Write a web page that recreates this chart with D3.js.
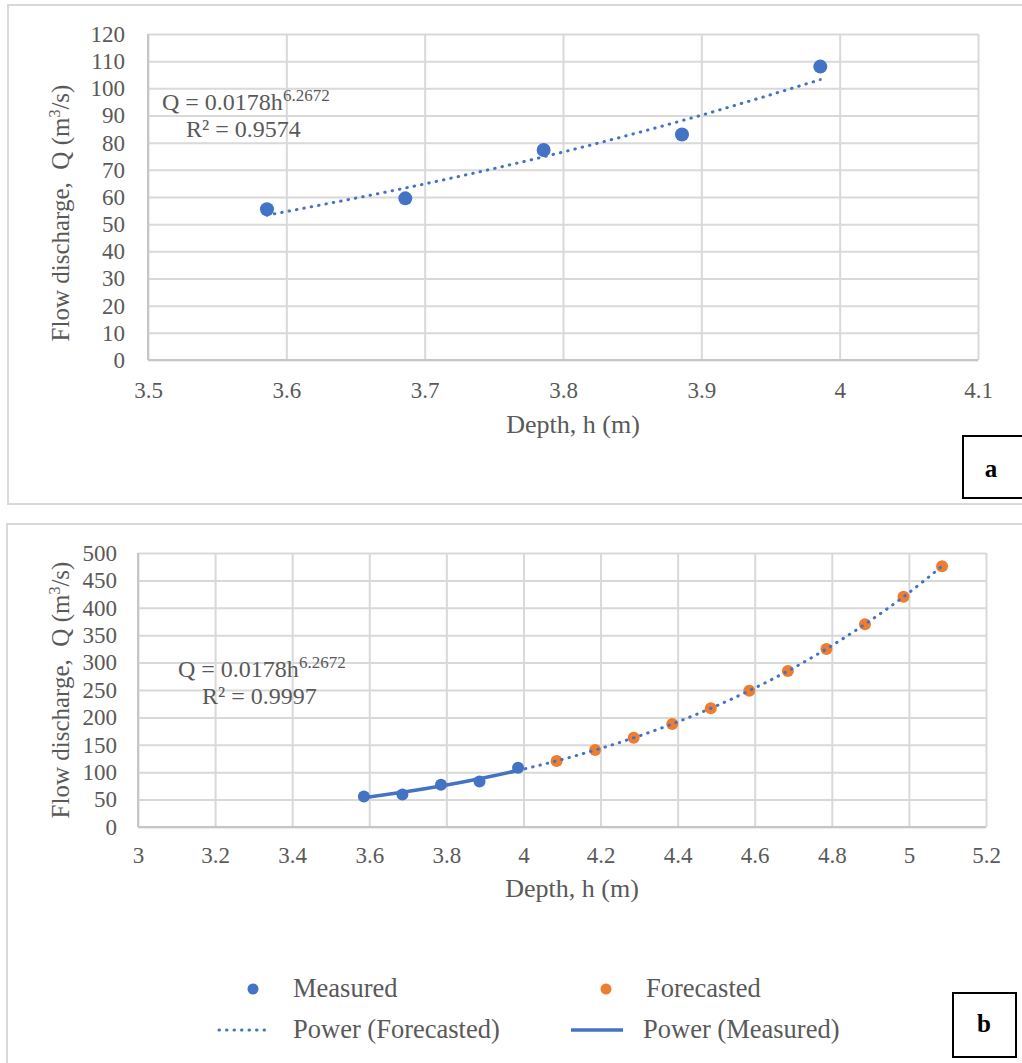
<!DOCTYPE html>
<html>
<head>
<meta charset="utf-8">
<script src="https://cdn.jsdelivr.net/npm/d3@7"></script>
<style>
  body { margin: 0; background: #fff; }
  svg { display: block; font-family: "Liberation Serif", "Times New Roman", serif; }
</style>
</head>
<body>
<svg id="chart" width="1022" height="1063"></svg>
<script>
// measured gauge data (same in both panels)
var depthMeasured = [3.586, 3.686, 3.786, 3.886, 3.986];
var flowMeasured = [55.5, 59.5, 77.3, 83, 108];

// power trendline read at the measured depths
var trendMeasured = [53.3, 63.3, 74.8, 88.1, 103.2];

// forecasted points (panel b)
var depthForecast = [4.086, 4.186, 4.286, 4.386, 4.486, 4.586, 4.686, 4.786, 4.886, 4.986, 5.086];
var flowForecast = [120.6, 140.3, 162.7, 188, 216.6, 248.8, 284.7, 325, 370, 420, 476];

// dotted "Power (Forecasted)" line in panel b starts at the last measured point
var trendForecastDepth = [3.986].concat(depthForecast);
var trendForecastFlow = [103.2].concat(flowForecast);

var xTicksA = [3.5, 3.6, 3.7, 3.8, 3.9, 4, 4.1];
var yTicksA = [0, 10, 20, 30, 40, 50, 60, 70, 80, 90, 100, 110, 120];
var xTicksB = [3, 3.2, 3.4, 3.6, 3.8, 4, 4.2, 4.4, 4.6, 4.8, 5, 5.2];
var yTicksB = [0, 50, 100, 150, 200, 250, 300, 350, 400, 450, 500];

var blue = "#4472c4", orange = "#ed7d31", grey = "#595959", gridCol = "#d9d9d9";

var svg = d3.select("#chart");

// panel frames
svg.append("rect").attr("x", 8).attr("y", 5).attr("width", 1030).attr("height", 499)
  .attr("fill", "#fff").attr("stroke", gridCol).attr("stroke-width", 2);
svg.append("rect").attr("x", 7).attr("y", 524).attr("width", 1030).attr("height", 560)
  .attr("fill", "#fff").attr("stroke", gridCol).attr("stroke-width", 2);

function panel(opt) {
  var x = d3.scaleLinear().domain(opt.xDomain).range([opt.left, opt.right]);
  var y = d3.scaleLinear().domain(opt.yDomain).range([opt.bottom, opt.top]);
  var g = svg.append("g");

  // grid
  g.append("g")
    .attr("transform", "translate(0," + opt.bottom + ")")
    .call(d3.axisBottom(x).tickValues(opt.xTicks).tickSize(-(opt.bottom - opt.top)).tickFormat(""))
    .call(function(s) { s.select(".domain").remove(); })
    .selectAll("line").attr("stroke", gridCol).attr("stroke-width", 2);
  g.append("g")
    .attr("transform", "translate(" + opt.left + ",0)")
    .call(d3.axisLeft(y).tickValues(opt.yTicks).tickSize(-(opt.right - opt.left)).tickFormat(""))
    .call(function(s) { s.select(".domain").remove(); })
    .selectAll("line").attr("stroke", gridCol).attr("stroke-width", 2);

  // axis lines
  g.append("line").attr("x1", opt.left).attr("x2", opt.left).attr("y1", opt.top).attr("y2", opt.bottom)
    .attr("stroke", "#c6c6c6").attr("stroke-width", 2);
  g.append("line").attr("x1", opt.left).attr("x2", opt.right).attr("y1", opt.bottom).attr("y2", opt.bottom)
    .attr("stroke", "#c6c6c6").attr("stroke-width", 2);

  // tick labels
  var xa = g.append("g")
    .attr("transform", "translate(0," + opt.bottom + ")")
    .call(d3.axisBottom(x).tickValues(opt.xTicks).tickSize(0).tickPadding(opt.xPad)
      .tickFormat(function(d) { return String(+d.toFixed(1)); }));
  xa.attr("font-family", null).attr("font-size", null);
  xa.select(".domain").remove();
  xa.selectAll("text").attr("fill", grey).style("font-size", "23px");
  var ya = g.append("g")
    .attr("transform", "translate(" + opt.left + ",0)")
    .call(d3.axisLeft(y).tickValues(opt.yTicks).tickSize(0).tickPadding(opt.yPad));
  ya.attr("font-family", null).attr("font-size", null);
  ya.select(".domain").remove();
  ya.selectAll("text").attr("fill", grey).style("font-size", "23px");

  // axis titles
  g.append("text").attr("x", (opt.left + opt.right) / 2 + 10).attr("y", opt.xTitleY)
    .attr("text-anchor", "middle").attr("fill", grey).style("font-size", "26px")
    .text("Depth, h (m)");
  var yt = g.append("text")
    .attr("transform", "translate(" + opt.yTitleX + "," + opt.yTitleMid + ") rotate(-90)")
    .attr("text-anchor", "middle").attr("fill", grey).style("font-size", "25px");
  yt.append("tspan").text("Flow discharge,\u00a0 Q (m");
  yt.append("tspan").attr("dy", -9).style("font-size", "16px").text("3");
  yt.append("tspan").attr("dy", 9).text("/s)");

  // equation label
  var eq = g.append("text").attr("x", opt.eqX).attr("y", opt.eqY).attr("fill", grey).style("font-size", "24px");
  eq.append("tspan").text("Q = 0.0178h");
  eq.append("tspan").attr("dy", -9).style("font-size", "17px").text("6.2672");
  g.append("text").attr("x", opt.r2X).attr("y", opt.eqY + 27).attr("fill", grey).style("font-size", "24px")
    .text("R\u00b2 = " + opt.r2);

  return { g: g, x: x, y: y };
}

var line = function(p) {
  return d3.line().x(function(d) { return p.x(d[0]); }).y(function(d) { return p.y(d[1]); })
    .curve(d3.curveMonotoneX);
};

// ---------- panel a ----------
var pa = panel({
  xDomain: [3.5, 4.1], yDomain: [0, 120], left: 148, right: 978, top: 34, bottom: 360,
  xTicks: xTicksA, yTicks: yTicksA, xPad: 22, yPad: 23,
  xTitleY: 433, yTitleX: 69, yTitleMid: 213,
  eqX: 162, eqY: 110, r2X: 186, r2: "0.9574"
});
pa.g.selectAll("circle.m").data(d3.zip(depthMeasured, flowMeasured)).enter().append("circle")
  .attr("cx", function(d) { return pa.x(d[0]); }).attr("cy", function(d) { return pa.y(d[1]); })
  .attr("r", 7).attr("fill", blue);
pa.g.append("path").datum(d3.zip(depthMeasured, trendMeasured)).attr("d", line(pa))
  .attr("fill", "none").attr("stroke", blue).attr("stroke-width", 3)
  .attr("stroke-linecap", "round").attr("stroke-dasharray", "0.5 7");

// ---------- panel b ----------
var pb = panel({
  xDomain: [3, 5.2], yDomain: [0, 500], left: 138, right: 986, top: 553, bottom: 827,
  xTicks: xTicksB, yTicks: yTicksB, xPad: 20, yPad: 21,
  xTitleY: 897, yTitleX: 69, yTitleMid: 690,
  eqX: 178, eqY: 677, r2X: 202, r2: "0.9997"
});
pb.g.selectAll("circle.m").data(d3.zip(depthMeasured, flowMeasured)).enter().append("circle")
  .attr("cx", function(d) { return pb.x(d[0]); }).attr("cy", function(d) { return pb.y(d[1]); })
  .attr("r", 6).attr("fill", blue);
pb.g.selectAll("circle.f").data(d3.zip(depthForecast, flowForecast)).enter().append("circle")
  .attr("cx", function(d) { return pb.x(d[0]); }).attr("cy", function(d) { return pb.y(d[1]); })
  .attr("r", 6).attr("fill", orange);
pb.g.append("path").datum(d3.zip(depthMeasured, trendMeasured)).attr("d", line(pb))
  .attr("fill", "none").attr("stroke", blue).attr("stroke-width", 3.5);
pb.g.append("path").datum(d3.zip(trendForecastDepth, trendForecastFlow)).attr("d", line(pb))
  .attr("fill", "none").attr("stroke", blue).attr("stroke-width", 3)
  .attr("stroke-linecap", "round").attr("stroke-dasharray", "0.5 7");

// legend
var leg = svg.append("g").attr("fill", grey).style("font-size", "26.5px");
leg.append("circle").attr("cx", 253).attr("cy", 989).attr("r", 5.5).attr("fill", blue);
leg.append("text").attr("x", 293).attr("y", 997).text("Measured");
leg.append("circle").attr("cx", 606).attr("cy", 989).attr("r", 5.5).attr("fill", orange);
leg.append("text").attr("x", 646).attr("y", 997).text("Forecasted");
leg.append("line").attr("x1", 219).attr("x2", 271).attr("y1", 1030).attr("y2", 1030)
  .attr("stroke", blue).attr("stroke-width", 3).attr("stroke-linecap", "round").attr("stroke-dasharray", "0.5 7");
leg.append("text").attr("x", 293).attr("y", 1038).text("Power (Forecasted)");
leg.append("line").attr("x1", 571).attr("x2", 623).attr("y1", 1030).attr("y2", 1030)
  .attr("stroke", blue).attr("stroke-width", 3.5);
leg.append("text").attr("x", 643).attr("y", 1038).text("Power (Measured)");

// panel tags
svg.append("rect").attr("x", 963).attr("y", 436).attr("width", 70).attr("height", 62)
  .attr("fill", "#fff").attr("stroke", "#000").attr("stroke-width", 2);
svg.append("text").attr("x", 991).attr("y", 477).attr("text-anchor", "middle")
  .style("font-size", "25px").style("font-weight", "bold").text("a");
svg.append("rect").attr("x", 953).attr("y", 993).attr("width", 63).attr("height", 64)
  .attr("fill", "#fff").attr("stroke", "#000").attr("stroke-width", 2);
svg.append("text").attr("x", 984).attr("y", 1032).attr("text-anchor", "middle")
  .style("font-size", "25px").style("font-weight", "bold").text("b");
</script>
</body>
</html>
